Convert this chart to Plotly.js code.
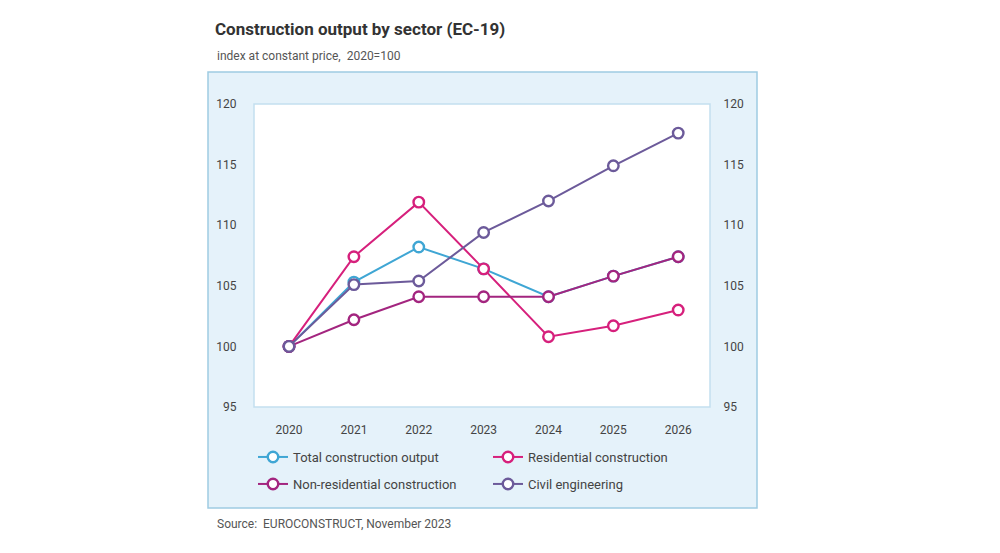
<!DOCTYPE html>
<html>
<head>
<meta charset="utf-8">
<script src="https://cdn.plot.ly/plotly-3.0.1.min.js"></script>
<style>html,body{margin:0;padding:0;background:#fff;}#chart{width:1000px;height:553px;}</style>
</head>
<body>
<div id="chart"></div>
<script>
const years = ['2020','2021','2022','2023','2024','2025','2026'];
const totalOutput = [100, 105.3, 108.2, 106.4, 104.1, 105.8, 107.4];
const residential = [100, 107.4, 111.9, 106.4, 100.8, 101.7, 103.0];
const nonResidential = [100, 102.2, 104.1, 104.1, 104.1, 105.8, 107.4];
const civilEngineering = [100, 105.1, 105.4, 109.4, 112.0, 114.9, 117.6];
const yTicks = [95, 100, 105, 110, 115, 120];

const FONT = 'Liberation Sans Narrow, Arial Narrow, Roboto, sans-serif';
const colors = {
  total: '#3fa6d4',
  res: '#d6207c',
  nonres: '#a3257f',
  civil: '#6c5a9a'
};

function series(name, y, color, legend) {
  return {
    x: years, y: y, name: name, type: 'scatter', mode: 'lines+markers',
    line: {color: color, width: 2},
    marker: {symbol: 'circle', size: 10.5, color: '#ffffff', line: {color: color, width: 2.4}},
    legend: legend, hoverinfo: 'x+y+name'
  };
}

const data = [
  series('Total construction output', totalOutput, colors.total, 'legend'),
  series('Residential construction', residential, colors.res, 'legend2'),
  series('Non-residential construction', nonResidential, colors.nonres, 'legend3'),
  series('Civil engineering', civilEngineering, colors.civil, 'legend4'),
  {x: years, y: civilEngineering, yaxis: 'y2', type: 'scatter', mode: 'lines', opacity: 0,
   showlegend: false, hoverinfo: 'skip', line: {width: 0}}
];

const L = 254, R = 710, T = 104, B = 407;
const pw = R - L, ph = B - T;
function px(x) { return (x - L) / pw; }
function py(y) { return (B - y) / ph; }

const legendBase = {
  bgcolor: 'rgba(0,0,0,0)', borderwidth: 0,
  font: {family: FONT, size: 13, color: '#444'},
  xanchor: 'left', yanchor: 'middle', itemwidth: 30
};

const layout = {
  width: 1000, height: 553,
  margin: {l: L, r: 1000 - R, t: T, b: 553 - B},
  paper_bgcolor: '#ffffff', plot_bgcolor: '#ffffff',
  font: {family: FONT, size: 12, color: '#444'},
  title: {
    text: '<b>Construction output by sector (EC-19)</b>',
    font: {family: FONT, size: 17, color: '#333'},
    xref: 'container', yref: 'container', x: 0.215, xanchor: 'left',
    y: 1 - 29 / 553, yanchor: 'middle'
  },
  xaxis: {
    type: 'category', range: [-0.54, 6.49], showgrid: false, zeroline: false,
    showline: false, ticks: 'outside', ticklen: 12, tickcolor: 'rgba(0,0,0,0)',
    tickfont: {family: FONT, size: 12, color: '#444'}, fixedrange: true
  },
  yaxis: {
    range: [95, 120], tickvals: yTicks, showgrid: false, zeroline: false, showline: false,
    ticks: 'outside', ticklen: 14, tickcolor: 'rgba(0,0,0,0)',
    tickfont: {family: FONT, size: 12, color: '#444'}, fixedrange: true
  },
  yaxis2: {
    range: [95, 120], tickvals: yTicks, overlaying: 'y', side: 'right', showgrid: false,
    zeroline: false, showline: false, ticks: 'outside', ticklen: 10, tickcolor: 'rgba(0,0,0,0)',
    tickfont: {family: FONT, size: 12, color: '#444'}, fixedrange: true
  },
  showlegend: true,
  legend: Object.assign({}, legendBase, {x: px(253), y: py(457)}),
  legend2: Object.assign({}, legendBase, {x: px(488), y: py(457)}),
  legend3: Object.assign({}, legendBase, {x: px(253), y: py(484)}),
  legend4: Object.assign({}, legendBase, {x: px(488), y: py(484)}),
  shapes: [
    {type: 'rect', xref: 'paper', yref: 'paper', layer: 'below',
     x0: px(208), x1: px(757), y0: py(508), y1: py(72),
     fillcolor: '#e5f2fa', line: {color: '#9fcbe2', width: 1.5}},
    {type: 'rect', xref: 'paper', yref: 'paper', layer: 'below',
     x0: 0, x1: 1, y0: 0, y1: 1,
     fillcolor: '#ffffff', line: {color: '#c3e0ef', width: 1.5}}
  ],
  annotations: [
    {text: 'index at constant price,  2020=100', xref: 'paper', yref: 'paper',
     x: px(215), y: py(56), xanchor: 'left', yanchor: 'middle', showarrow: false,
     font: {family: FONT, size: 12, color: '#555'}},
    {text: 'Source:  EUROCONSTRUCT, November 2023', xref: 'paper', yref: 'paper',
     x: px(215), y: py(524), xanchor: 'left', yanchor: 'middle', showarrow: false,
     font: {family: FONT, size: 12, color: '#555'}}
  ]
};

Plotly.newPlot('chart', data, layout, {displayModeBar: false, staticPlot: true});
</script>
</body>
</html>
